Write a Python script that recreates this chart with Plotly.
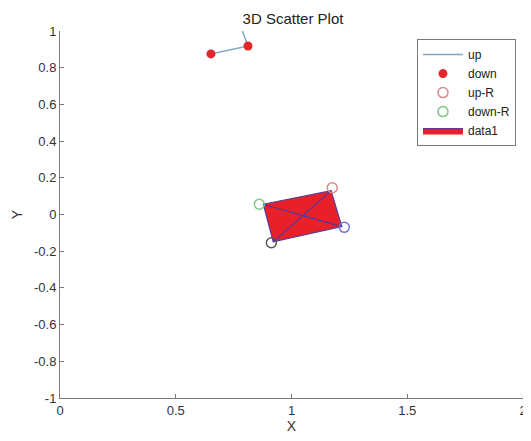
import plotly.graph_objects as go

# Data
up_x = [0.652, 0.812, 0.788]
up_y = [0.875, 0.918, 1.0]
down_x = [0.652, 0.812]
down_y = [0.875, 0.918]
upR_x = [1.176]
upR_y = [0.146]
downR_x = [0.861]
downR_y = [0.056]
other_circles_x = [1.228, 0.913]
other_circles_y = [-0.070, -0.154]
rect_x = [0.878, 1.171, 1.217, 0.921, 0.878]
rect_y = [0.056, 0.130, -0.066, -0.149, 0.056]
diag_x = [0.878, 1.217, None, 0.921, 1.171]
diag_y = [0.056, -0.066, None, -0.149, 0.130]
x_ticks = [0, 0.5, 1, 1.5, 2]
x_labels = ["0", "0.5", "1", "1.5", "2"]
y_ticks = [-1, -0.8, -0.6, -0.4, -0.2, 0, 0.2, 0.4, 0.6, 0.8, 1]
y_labels = ["-1", "-0.8", "-0.6", "-0.4", "-0.2", "0", "0.2", "0.4", "0.6", "0.8", "1"]

FONT = "Liberation Sans, Arial"
W, H = 523, 433

fig = go.Figure()
fig.add_trace(go.Scatter(x=rect_x, y=rect_y, mode="lines", fill="toself",
                         fillcolor="#e8202a", line=dict(color="#5a3a96", width=1.2),
                         name="data1", legendrank=1010))
fig.add_trace(go.Scatter(x=diag_x, y=diag_y, mode="lines",
                         line=dict(color="#4a3aa0", width=1.2), showlegend=False, hoverinfo="skip"))
fig.add_trace(go.Scatter(x=up_x, y=up_y, mode="lines",
                         line=dict(color="#7fabc4", width=1.5), name="up"))
fig.add_trace(go.Scatter(x=down_x, y=down_y, mode="markers",
                         marker=dict(color="#e3262b", size=9), name="down"))
fig.add_trace(go.Scatter(x=upR_x, y=upR_y, mode="markers",
                         marker=dict(symbol="circle-open", color="#d98a8a", size=10, line=dict(width=1.5)),
                         name="up-R"))
fig.add_trace(go.Scatter(x=downR_x, y=downR_y, mode="markers",
                         marker=dict(symbol="circle-open", color="#7cc87c", size=10, line=dict(width=1.5)),
                         name="down-R"))
fig.add_trace(go.Scatter(x=other_circles_x[:1], y=other_circles_y[:1], mode="markers",
                         marker=dict(symbol="circle-open", color="#7474d4", size=10, line=dict(width=1.5)),
                         showlegend=False))
fig.add_trace(go.Scatter(x=other_circles_x[1:], y=other_circles_y[1:], mode="markers",
                         marker=dict(symbol="circle-open", color="#555555", size=10, line=dict(width=1.5)),
                         showlegend=False))

axis_common = dict(showgrid=False, zeroline=False, showline=True, linecolor="#7a7a7a",
                   linewidth=1, ticks="inside", ticklen=4, tickcolor="#7a7a7a",
                   tickfont=dict(family=FONT, size=13, color="#333333"),
                   mirror=False, automargin=False)

fig.update_layout(
    width=W, height=H,
    margin=dict(l=52, r=8, t=23, b=43, autoexpand=False),
    paper_bgcolor="white", plot_bgcolor="white",
    title=dict(text="3D Scatter Plot", x=(285 / W), xanchor="center", xref="container", y=1 - 11 / H,
               yanchor="middle", yref="container",
               font=dict(family=FONT, size=15, color="#222222"), automargin=False),
    xaxis=dict(range=[0, 2], tickvals=x_ticks, ticktext=x_labels,
               title=dict(text="X", font=dict(family=FONT, size=14, color="#333333"), standoff=2),
               **axis_common),
    yaxis=dict(range=[-1, 1], tickvals=y_ticks, ticktext=y_labels,
               title=dict(text="Y", font=dict(family=FONT, size=14, color="#333333"), standoff=8),
               **axis_common),
    legend=dict(x=0.771, y=0.978, xanchor="left", yanchor="top", bgcolor="white",
                bordercolor="#7a7a7a", borderwidth=1, traceorder="normal",
                font=dict(family=FONT, size=12, color="#222222"),
                itemwidth=40, tracegroupgap=0),
    showlegend=True,
)
fig.write_html("out.html")
